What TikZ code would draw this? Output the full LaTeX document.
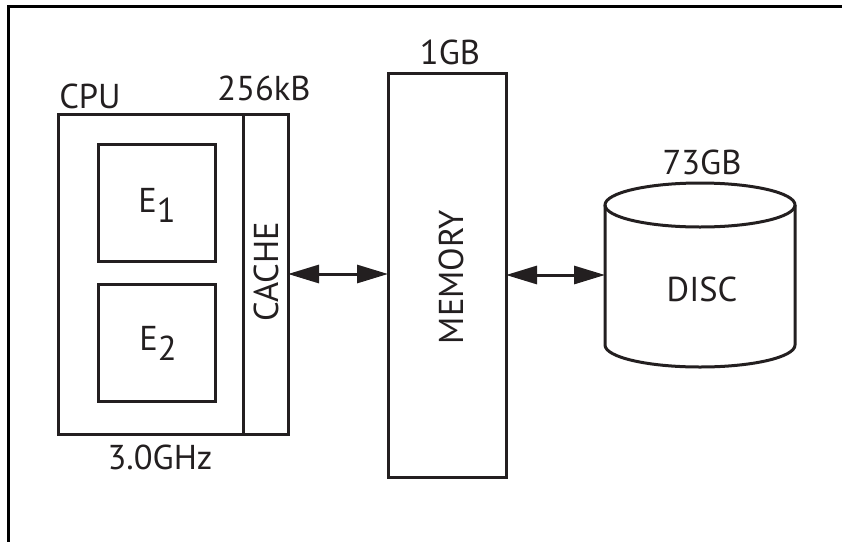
\documentclass[tikz,border=0pt]{standalone}
\usepackage{fontspec}
\setmainfont{PT Sans}
\usetikzlibrary{arrows.meta}
\definecolor{ink}{RGB}{35,31,32}
\begin{document}
\begin{tikzpicture}[x=1pt,y=-1pt,
  box/.style={draw=ink, line width=3pt, inner sep=0pt, outer sep=0pt},
  lbl/.style={inner sep=0pt, outer sep=0pt, text=ink, font=\fontsize{34.5}{40}\selectfont},
  link/.style={draw=ink, line width=3pt, {Triangle[length=31pt,width=18pt]}-{Triangle[length=31pt,width=18pt]}}]
\useasboundingbox (0,0) rectangle (842,541);
% frame
\coordinate (fbl) at (8.5,545);
\coordinate (ftl) at (8.5,6.5);
\coordinate (ftr) at (846,6.5);
\draw[line width=3.3pt, draw=black] (fbl) -- (ftl) -- (ftr);
% CPU
\node[box, minimum width=185pt, minimum height=320pt] (cpu) at (150.5,274) {};
\node[box, minimum width=45pt, minimum height=320pt] (cache) at (265.5,274) {};
\node[box, minimum width=117pt, minimum height=117pt] (e1) at (156.5,202.5) {};
\node[box, minimum width=117pt, minimum height=117pt] (e2) at (156.5,342.5) {};
\node[lbl, anchor=base] (e1l) at (157,212) {E\raisebox{-10pt}{1}};
\node[lbl, anchor=base] (e2l) at (158,350) {E\raisebox{-10pt}{2}};
\node[lbl] (cpul) at (90,96) {CPU};
\node[lbl] (cachesz) at (264,88) {256kB};
\node[lbl] (clock) at (160,457) {3.0GHz};
\node[lbl, rotate=90] (cachel) at (266,272) {CACHE};
% memory
\node[box, minimum width=118pt, minimum height=404pt] (mem) at (447,275) {};
\node[lbl] (memsz) at (450,52) {1GB};
\node[lbl, rotate=90] (meml) at (451,277) {MEMORY};
% disc
\node[inner sep=0pt, outer sep=0pt, minimum width=190pt, minimum height=140pt] (disc) at (700,275) {};
\draw[draw=ink, line width=3pt] (disc.north) ellipse [x radius=95pt, y radius=22pt];
\draw[draw=ink, line width=3pt] (disc.north west) -- (disc.south west)
  arc[start angle=180, end angle=360, x radius=95pt, y radius=22pt] -- (disc.north east);
\node[lbl] (discsz) at (702,162) {73GB};
\node[lbl] (discl) at (702,289) {DISC};
% connectors
\draw[link] (cache.east) -- (cache.east -| mem.west);
\draw[link] (mem.east) -- (disc.west);
\end{tikzpicture}
\end{document}
